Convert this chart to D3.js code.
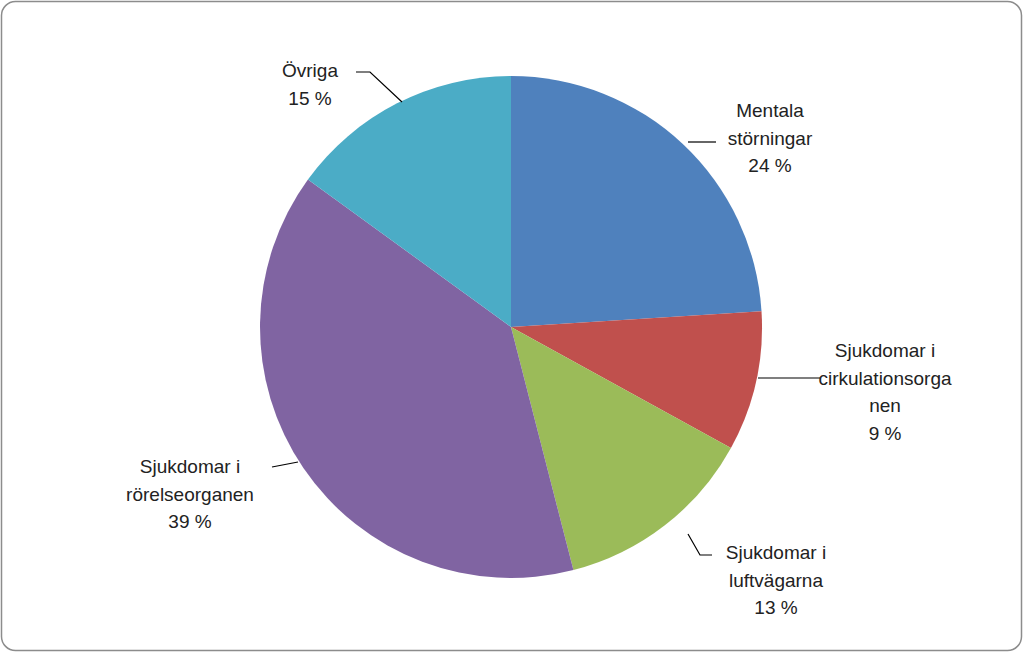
<!DOCTYPE html>
<html><head><meta charset="utf-8">
<script src="https://d3js.org/d3.v7.min.js"></script>
<style>body{margin:0;background:#fff}</style></head>
<body><div id="chart"></div>
<script>
//data
var categories = ['Mentala störningar', 'Sjukdomar i cirkulationsorganen', 'Sjukdomar i luftvägarna', 'Sjukdomar i rörelseorganen', 'Övriga'];
var values = [24, 9, 13, 39, 15];
var colors = ['#4f81bd', '#c0504d', '#9bbb59', '#8064a2', '#4bacc6'];
var labelLines = [
  ['Mentala', 'störningar', '24 %'],
  ['Sjukdomar i', 'cirkulationsorga', 'nen', '9 %'],
  ['Sjukdomar i', 'luftvägarna', '13 %'],
  ['Sjukdomar i', 'rörelseorganen', '39 %'],
  ['Övriga', '15 %']
];
var labelPos = [[770, 110], [885, 350], [776, 552], [190, 466], [310, 70]];
var leaders = [
  [[688, 142], [716, 142]],
  [[758, 378], [820, 378]],
  [[688, 534], [700, 555], [712, 555]],
  [[272, 467], [298, 462]],
  [[356, 72], [370, 72], [402, 102]]
];

//dims
var width = 1024, height = 653;
var cx = 511, cy = 327, radius = 251;

var svg = d3.select('#chart').append('svg')
  .attr('width', width).attr('height', height)
  .style('font-family', 'Liberation Sans, Arial, sans-serif');

svg.append('rect')
  .attr('x', 1.5).attr('y', 1.5).attr('width', width - 4).attr('height', height - 4)
  .attr('rx', 14).attr('fill', '#fff').attr('stroke', '#8c8c8c').attr('stroke-width', 1.5);

var pie = d3.pie().sort(null);
var arc = d3.arc().innerRadius(0).outerRadius(radius);

svg.append('g')
  .attr('transform', 'translate(' + cx + ',' + cy + ')')
  .selectAll('path')
  .data(pie(values))
  .enter()
  .append('path')
  .attr('d', arc)
  .attr('fill', function(d, i) { return colors[i]; });

var line = d3.line();
svg.selectAll('.leader')
  .data(leaders)
  .enter()
  .append('path')
  .attr('d', line)
  .attr('fill', 'none')
  .attr('stroke', '#000')
  .attr('stroke-width', 1.2);

labelLines.forEach(function(lines, i) {
  var t = svg.append('text')
    .attr('x', labelPos[i][0]).attr('y', labelPos[i][1] + 7)
    .attr('text-anchor', 'middle')
    .attr('font-size', 19).attr('fill', '#222');
  lines.forEach(function(s, j) {
    t.append('tspan').attr('x', labelPos[i][0]).attr('dy', j ? 27.5 : 0).text(s);
  });
});
</script>
</body></html>
